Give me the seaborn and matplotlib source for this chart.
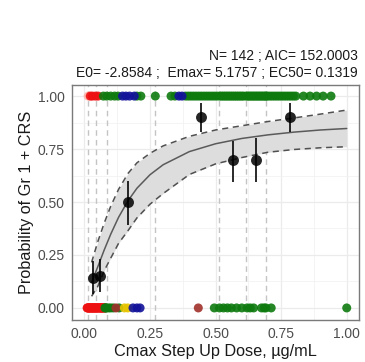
import numpy as np
import pandas as pd
import seaborn as sns
import matplotlib
matplotlib.use("Agg")
import matplotlib.pyplot as plt

# raw observations (x = Cmax step-up dose), events plotted at 1, non-events at 0
ev_salmon = [0.014]
ev_red = [0.022, 0.030, 0.042, 0.052]
ev_green = [0.072, 0.085, 0.100, 0.115, 0.128, 0.200, 0.215, 0.270, 0.330, 0.345,
            0.385, 0.395, 0.405, 0.415, 0.425, 0.435, 0.445, 0.455, 0.465, 0.475,
            0.485, 0.495, 0.505,
            0.516, 0.523, 0.530, 0.537, 0.544, 0.551, 0.558, 0.565, 0.572, 0.579,
            0.586, 0.593, 0.600, 0.607,
            0.617, 0.623, 0.629, 0.635, 0.641, 0.647, 0.653, 0.659, 0.665, 0.671,
            0.677, 0.683, 0.689, 0.693,
            0.698, 0.707, 0.716, 0.725, 0.734, 0.743, 0.752, 0.761, 0.770, 0.779,
            0.788, 0.797, 0.806, 0.835, 0.860, 0.885, 0.910, 0.940]
ev_blue = [0.145, 0.158, 0.172, 0.190, 0.360, 0.372]

ne_red = [0.010, 0.012, 0.014, 0.016, 0.018, 0.020, 0.022, 0.024, 0.026, 0.028,
          0.030, 0.032, 0.034, 0.036, 0.038, 0.040, 0.042, 0.044,
          0.046, 0.048, 0.050, 0.052, 0.055, 0.058, 0.060, 0.062, 0.064, 0.066,
          0.068, 0.070, 0.072, 0.075, 0.080]
ne_green = [0.078, 0.081, 0.084, 0.092, 0.100, 0.110, 0.132, 0.495,
            0.515, 0.530, 0.545, 0.560, 0.580, 0.600,
            0.620, 0.632, 0.645, 0.675, 0.685, 0.692, 0.712, 1.000]
ne_brown = [0.120, 0.434]
ne_gold = [0.152, 0.165]
ne_blue = [0.185, 0.200, 0.212]

# binned observed proportions with 95% CI
bin_edges = [0.014, 0.044, 0.085, 0.269, 0.512, 0.614, 0.694]
bin_x = [0.034, 0.059, 0.167, 0.446, 0.565, 0.653, 0.783]
bin_p = [0.143, 0.150, 0.500, 0.900, 0.700, 0.700, 0.900]
bin_lo = [0.065, 0.075, 0.390, 0.830, 0.595, 0.595, 0.830]
bin_hi = [0.220, 0.230, 0.600, 0.967, 0.790, 0.800, 0.967]

# fitted Emax-logistic curve and its confidence band
fit_x = [0.027, 0.05, 0.075, 0.10, 0.13, 0.166, 0.20, 0.25, 0.30, 0.40,
         0.50, 0.60, 0.70, 0.80, 0.90, 1.00]
fit_p = [0.121, 0.192, 0.273, 0.348, 0.428, 0.506, 0.565, 0.629, 0.676, 0.738,
         0.775, 0.800, 0.817, 0.830, 0.840, 0.847]
fit_lo = [0.055, 0.100, 0.175, 0.235, 0.305, 0.365, 0.425, 0.490, 0.540, 0.630,
          0.680, 0.710, 0.735, 0.748, 0.756, 0.761]
fit_hi = [0.215, 0.310, 0.400, 0.480, 0.560, 0.635, 0.685, 0.730, 0.765, 0.810,
          0.840, 0.860, 0.880, 0.897, 0.915, 0.934]

palette = {"salmon": "#FFB3A6", "red": "#EE1111", "green": "#0E7A0E",
           "blue": "#12129A", "brown": "#A0302A", "gold": "#E6C400"}

rows = []
for grp, xs in [("salmon", ev_salmon), ("red", ev_red), ("green", ev_green), ("blue", ev_blue)]:
    rows += [(x, 1.0, grp) for x in xs]
for grp, xs in [("red", ne_red), ("green", ne_green), ("brown", ne_brown),
                ("gold", ne_gold), ("blue", ne_blue)]:
    rows += [(x, 0.0, grp) for x in xs]
raw = pd.DataFrame(rows, columns=["dose", "resp", "grp"])

sns.set_theme(style="whitegrid")
plt.rcParams["font.family"] = ["Liberation Sans", "DejaVu Sans"]

fig = plt.figure(figsize=(3.65, 3.62), dpi=100)
ax = fig.add_axes([0.197, 0.116, 0.786, 0.649])
ax.set_facecolor("white")

for e in bin_edges:
    ax.axvline(e, color="#C4C4C4", lw=1.0, ls=(0, (4, 3)), zorder=1)

ax.fill_between(fit_x, fit_lo, fit_hi, color="#DDDDDD", lw=0, zorder=2)
ax.plot(fit_x, fit_lo, color="#505050", lw=1.1, ls=(0, (4, 3)), zorder=3)
ax.plot(fit_x, fit_hi, color="#505050", lw=1.1, ls=(0, (4, 3)), zorder=3)
sns.lineplot(x=fit_x, y=fit_p, color="#5A5A5A", lw=1.1, ax=ax, zorder=3)

sns.scatterplot(data=raw, x="dose", y="resp", hue="grp", palette=palette,
                s=42, linewidth=0, alpha=0.9, legend=False, ax=ax, zorder=4)

ax.vlines(bin_x, bin_lo, bin_hi, color="black", lw=1.3, alpha=0.9, zorder=5)
sns.scatterplot(x=bin_x, y=bin_p, color="black", s=62, linewidth=0, alpha=0.85,
                ax=ax, zorder=6)

ax.set_xlim(-0.048, 1.046)
ax.set_ylim(-0.057, 1.052)
ax.set_xticks([0, 0.25, 0.5, 0.75, 1.0])
ax.set_yticks([0, 0.25, 0.5, 0.75, 1.0])
ax.set_xticklabels(["0.00", "0.25", "0.50", "0.75", "1.00"])
ax.set_yticklabels(["0.00", "0.25", "0.50", "0.75", "1.00"])
ax.set_xticks([0.125, 0.375, 0.625, 0.875], minor=True)
ax.set_yticks([0.125, 0.375, 0.625, 0.875], minor=True)
ax.grid(which="major", color="#EBEBEB", lw=0.9)
ax.grid(which="minor", color="#F2F2F2", lw=0.6)
ax.tick_params(axis="both", which="major", labelsize=10, colors="#4D4D4D",
               length=3, width=0.8, pad=2, direction="out")
ax.tick_params(axis="both", which="minor", length=0)
for sp in ax.spines.values():
    sp.set_color("#7A7A7A")
    sp.set_linewidth(1.0)

ax.set_xlabel("Cmax Step Up Dose, µg/mL", fontsize=11.7, color="#1A1A1A", labelpad=2)
ax.set_ylabel("Probability of Gr 1 + CRS", fontsize=11.7, color="#1A1A1A", labelpad=3)

fig.text(358 / 365, 1 - 56 / 362, "N= 142 ; AIC= 152.0003", ha="right", va="center",
         fontsize=10, color="#1A1A1A")
fig.text(358 / 365, 1 - 73 / 362, "E0= -2.8584 ;  Emax= 5.1757 ; EC50= 0.1319",
         ha="right", va="center", fontsize=10, color="#1A1A1A")

fig.savefig("out.png", dpi=100, facecolor="white")
